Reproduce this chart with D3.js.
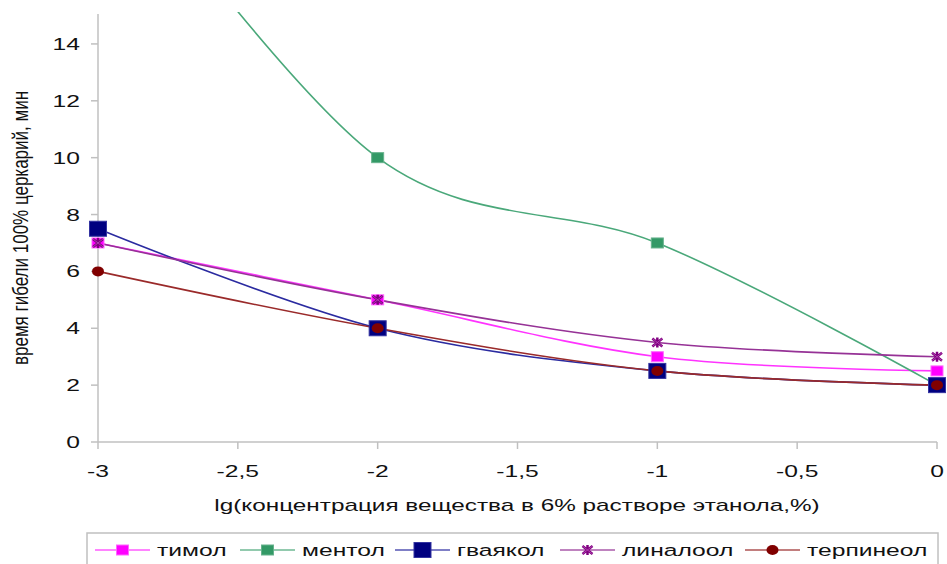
<!DOCTYPE html>
<html><head><meta charset="utf-8">
<script src="https://cdn.jsdelivr.net/npm/d3@7"></script>
<style>body{margin:0;background:#fff}svg{display:block}</style>
</head><body>
<script>
const xValues = [-3, -2, -1, 0];
const xTicks = [-3, -2.5, -2, -1.5, -1, -0.5, 0];
const yTicks = [0, 2, 4, 6, 8, 10, 12, 14];
const seriesNames = ["тимол", "ментол", "гваякол", "линалоол", "терпинеол"];
const timol = [7, 5, 3, 2.5];
const mentol = [21.5, 10, 7, 2];
const guaiacol = [7.5, 4, 2.5, 2];
const linalool = [7, 5, 3.5, 3];
const terpineol = [6, 4, 2.5, 2];
const xTitle = "lg(концентрация вещества в 6% растворе этанола,%)";
const yTitle = "время гибели 100% церкарий, мин";

const styles = [
  {line:"#ff33ff", fill:"#ff00ff", stroke:"#ff66ff", marker:"square", w:12, h:10},
  {line:"#4aa87a", fill:"#339966", stroke:"#66b28c", marker:"square", w:12, h:10},
  {line:"#2b2ba0", fill:"#000080", stroke:"#3333a0", marker:"square", w:17, h:15},
  {line:"#963296", fill:"#800080", stroke:"#cc66cc", marker:"star", w:12, h:10},
  {line:"#9a2a2a", fill:"#800000", stroke:"#800000", marker:"circle", w:12, h:10}
];
const data = [timol, mentol, guaiacol, linalool, terpineol];

const W = 947, H = 564, SX = 1.45;
const svg = d3.select("body").append("svg").attr("width", W).attr("height", H);
const x = d3.scaleLinear().domain([-3, 0]).range([98, 937]);
const y = d3.scaleLinear().domain([0, 15]).range([442, 15.5]);
const font = "'Liberation Sans', Arial, sans-serif";
const axisCol = "#c0c0c0";

// axes
svg.append("line").attr("x1", x(-3)).attr("x2", x(-3)).attr("y1", y(0)).attr("y2", 14).attr("stroke", axisCol).attr("stroke-width", 1.5);
svg.append("line").attr("x1", x(-3)).attr("x2", x(0)).attr("y1", y(0)).attr("y2", y(0)).attr("stroke", axisCol).attr("stroke-width", 1.5);
svg.selectAll(".yt").data(yTicks).enter().append("line")
  .attr("x1", x(-3) - 7).attr("x2", x(-3)).attr("y1", d => y(d)).attr("y2", d => y(d)).attr("stroke", axisCol).attr("stroke-width", 1.5);
svg.selectAll(".xt").data(xTicks).enter().append("line")
  .attr("x1", d => x(d)).attr("x2", d => x(d)).attr("y1", y(0)).attr("y2", y(0) + 7).attr("stroke", axisCol).attr("stroke-width", 1.5);

function stext(px, py, txt, anchor, size, sx) {
  const g = svg.append("g").attr("transform", `translate(${px},${py}) scale(${sx || SX},1)`);
  g.append("text").attr("text-anchor", anchor).attr("font-family", font).attr("font-size", size).attr("fill", "#111").text(txt);
  return g;
}
yTicks.forEach(t => stext(80, y(t) + 6, String(t), "end", 17));
xTicks.forEach(t => stext(x(t), 477, String(t).replace(".", ","), "middle", 17));
stext(517, 511, xTitle, "middle", 16, 1.52);
svg.append("g").attr("transform", `translate(28,228) scale(1.25,1) rotate(-90)`)
  .append("text").attr("text-anchor", "middle").attr("font-family", font).attr("font-size", 17).attr("fill", "#111").text(yTitle);

// clip
svg.append("clipPath").attr("id", "clip").append("rect").attr("x", 0).attr("y", 12).attr("width", W).attr("height", 450);

const line = d3.line().x((d, i) => x(xValues[i])).y(d => y(d)).curve(d3.curveCatmullRom.alpha(0));

function marker(g, s, cx, cy) {
  if (s.marker === "square") {
    g.append("rect").attr("x", cx - s.w / 2).attr("y", cy - s.h / 2).attr("width", s.w).attr("height", s.h)
      .attr("fill", s.fill).attr("stroke", s.stroke).attr("stroke-width", 1);
  } else if (s.marker === "circle") {
    g.append("ellipse").attr("cx", cx).attr("cy", cy).attr("rx", s.w / 2).attr("ry", s.h / 2).attr("fill", s.fill);
  } else {
    const hw = s.w / 2 - 1, hh = s.h / 2 - 1;
    g.append("path").attr("d", `M${cx - hw},${cy - hh}L${cx + hw},${cy + hh}M${cx - hw},${cy + hh}L${cx + hw},${cy - hh}M${cx},${cy - hh - 1}L${cx},${cy + hh + 1}`)
      .attr("stroke", s.fill).attr("stroke-width", 2.5).attr("fill", "none");
    g.append("path").attr("d", `M${cx - hw},${cy - hh}L${cx + hw},${cy + hh}M${cx - hw},${cy + hh}L${cx + hw},${cy - hh}`)
      .attr("stroke", s.stroke).attr("stroke-width", 1).attr("fill", "none").attr("opacity", 0.6);
  }
}

const plot = svg.append("g").attr("clip-path", "url(#clip)");
data.forEach((vals, i) => {
  const s = styles[i];
  plot.append("path").attr("d", line(vals)).attr("fill", "none").attr("stroke", s.line).attr("stroke-width", 1.6);
});
data.forEach((vals, i) => {
  const s = styles[i];
  vals.forEach((v, j) => { if (v <= 15) marker(plot, s, x(xValues[j]), y(v)); });
});

// legend
svg.append("rect").attr("x", 87).attr("y", 533).attr("width", 851).attr("height", 45).attr("fill", "none").attr("stroke", axisCol).attr("stroke-width", 1.5);
const legX = [95, 240, 395, 560, 745];
seriesNames.forEach((n, i) => {
  const s = styles[i];
  const lx = legX[i];
  const g = svg.append("g");
  g.append("line").attr("x1", lx).attr("x2", lx + 55).attr("y1", 550).attr("y2", 550).attr("stroke", s.line).attr("stroke-width", 1.6).attr("opacity", 0.8);
  marker(g, s, lx + 27.5, 550);
  stext(lx + 62, 556, n, "start", 17);
});
</script>
</body></html>
